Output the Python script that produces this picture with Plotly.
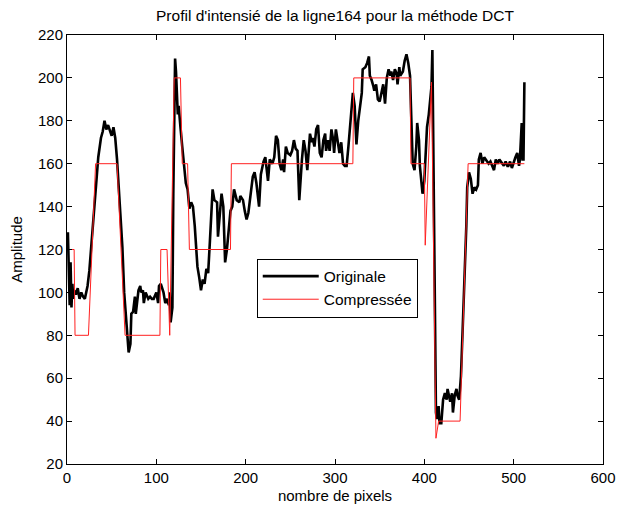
import plotly.graph_objects as go

# Intensity profile of image row 164: original pixels (vertex samples)
orig_x = [1, 2, 3, 4, 5, 6, 7, 8, 10, 12, 14, 16, 18, 20, 22, 23,
          25, 28, 31, 33, 35, 38, 40, 42, 44, 46, 48, 50, 52, 54, 56, 59, 62, 64, 67, 69, 71, 72, 74, 75,
          76, 77, 79, 80, 82, 83, 85, 86, 88, 91, 93, 95, 97, 100, 102, 103, 105, 108, 110, 112, 114, 115,
          116, 118, 119, 120, 121, 122, 123, 124, 125, 126, 127, 129, 131, 133, 135, 137, 139, 141, 143, 145,
          146, 148, 150, 152, 154, 156, 158, 160, 162, 163, 165, 168, 169, 171, 173, 175, 177, 179, 181, 183,
          185, 187, 190, 193, 194, 197, 199, 201, 203, 205, 208, 210, 212, 215, 217, 220, 222, 225, 227, 230,
          232, 234, 236, 238, 240, 242, 243, 245, 247, 250, 252, 254, 256, 258, 260, 263, 265, 267, 269, 272,
          274, 275, 277, 279, 281, 283, 285, 287, 289, 290, 292, 294, 296, 298, 299, 301, 303, 305, 307, 309,
          311, 313, 315, 317, 319, 320, 322, 323, 324, 326, 328, 330, 331, 334, 336, 338, 339, 341, 343, 344,
          346, 348, 350, 352, 354, 356, 358, 360, 362, 363, 365, 367, 369, 370, 372, 373, 376, 378, 380, 382,
          384, 385, 386, 387, 389, 391, 392, 394, 395, 397, 398, 400, 401, 403, 405, 406, 408, 409, 411, 413,
          414, 416, 417, 419, 421, 423, 425, 426, 429, 431, 432, 434, 436, 437, 439, 441, 443, 445, 447, 448,
          450, 452, 454, 456, 458, 460, 461, 463, 465, 467, 469, 472, 474, 476, 478, 480, 482, 484, 487, 489,
          491, 493, 494, 496, 498, 500, 502, 504, 506, 507, 509, 510, 511, 512]
orig_y = [128, 110, 94, 114, 93, 104, 97, 101, 99, 102, 97, 100, 98, 97, 101, 103,
          110, 126, 146, 155, 163, 172, 175, 180, 176, 178, 175, 173, 177, 172, 162, 143, 121, 100, 81, 72, 76, 90, 91, 95,
          98, 90, 100, 101, 103, 100, 101, 95, 100, 97, 98, 97, 97, 100, 95, 103, 104, 100, 95, 97, 94, 100,
          86, 93, 146, 193, 209, 203, 190, 183, 187, 180, 177, 168, 160, 151, 148, 139, 142, 140, 131, 115,
          112, 107, 101, 106, 104, 111, 109, 124, 146, 148, 143, 142, 126, 135, 146, 140, 114, 120, 131, 138,
          140, 148, 143, 142, 145, 143, 138, 134, 137, 143, 154, 156, 151, 140, 155, 161, 163, 152, 162, 160,
          163, 173, 171, 160, 157, 162, 156, 168, 165, 164, 166, 171, 167, 166, 143, 162, 171, 166, 157, 174,
          170, 172, 168, 176, 178, 165, 163, 171, 174, 166, 171, 166, 176, 171, 165, 176, 170, 165, 170, 160,
          159, 159, 168, 180, 190, 193, 187, 174, 169, 180, 188, 193, 204, 205, 207, 210, 201, 199, 196, 194,
          197, 190, 189, 194, 197, 188, 200, 204, 201, 203, 199, 204, 202, 197, 205, 201, 203, 208, 211, 207,
          201, 187, 168, 160, 157, 168, 179, 171, 159, 152, 146, 152, 163, 177, 183, 187, 196, 213, 125, 44,
          41, 47, 39, 39, 50, 53, 50, 55, 49, 53, 44, 52, 55, 52, 50, 61, 84, 106, 131, 149,
          156, 153, 146, 149, 148, 150, 162, 165, 160, 163, 162, 160, 161, 159, 157, 162, 160, 162, 160, 159,
          161, 159, 159, 161, 158, 161, 163, 165, 159, 162, 179, 162, 162, 198]

# DCT-compressed profile (breakpoints of the quantised signal)
comp_x = [1, 8, 9, 24, 32, 56, 65, 104, 105, 112, 115, 120, 127, 129, 135, 137, 183, 184,
          320, 321, 384, 385, 400, 401, 408, 413, 416, 440, 449, 512]
comp_y = [120, 120, 80, 80, 160, 160, 80, 80, 120, 120, 80, 200, 200, 160, 160, 120, 120, 160,
          160, 200, 200, 160, 160, 122, 198, 32, 40, 40, 160, 160]

x_ticks = [0, 100, 200, 300, 400, 500, 600]
y_ticks = [20, 40, 60, 80, 100, 120, 140, 160, 180, 200, 220]

FONT = "Liberation Sans, Arial, sans-serif"

fig = go.Figure()
fig.add_trace(go.Scatter(x=orig_x, y=orig_y, mode="lines", name="Originale",
                         line=dict(color="black", width=2.6)))
fig.add_trace(go.Scatter(x=comp_x, y=comp_y, mode="lines", name="Compressée",
                         line=dict(color="#ff2020", width=1)))

axis_common = dict(showgrid=False, zeroline=False, showline=True, linecolor="black",
                   linewidth=1, mirror="ticks", ticks="inside", ticklen=5,
                   tickcolor="black", tickfont=dict(family=FONT, size=15, color="black"))

fig.update_layout(
    width=628, height=514,
    margin=dict(l=67, r=15, t=35, b=49),
    paper_bgcolor="white", plot_bgcolor="white",
    font=dict(family=FONT, size=15, color="black"),
    title=dict(text="Profil d'intensié de la ligne164 pour la méthode DCT",
               x=0.5, xref="paper", xanchor="center",
               y=1 - 16 / 514, yref="container", yanchor="middle",
               font=dict(family=FONT, size=15.5, color="black")),
    xaxis=dict(range=[0, 600], tickvals=x_ticks,
               title=dict(text="nombre de pixels", standoff=5,
                          font=dict(family=FONT, size=15)),
               **axis_common),
    yaxis=dict(range=[20, 220], tickvals=y_ticks,
               title=dict(text="Amplitude", standoff=11,
                          font=dict(family=FONT, size=15)),
               **axis_common),
    legend=dict(x=0.354, y=0.479, xanchor="left", yanchor="top",
                bgcolor="white", bordercolor="black", borderwidth=1,
                font=dict(family=FONT, size=15.5, color="black"),
                itemwidth=56, tracegroupgap=0),
    showlegend=True,
)

fig.write_html("out.html")
